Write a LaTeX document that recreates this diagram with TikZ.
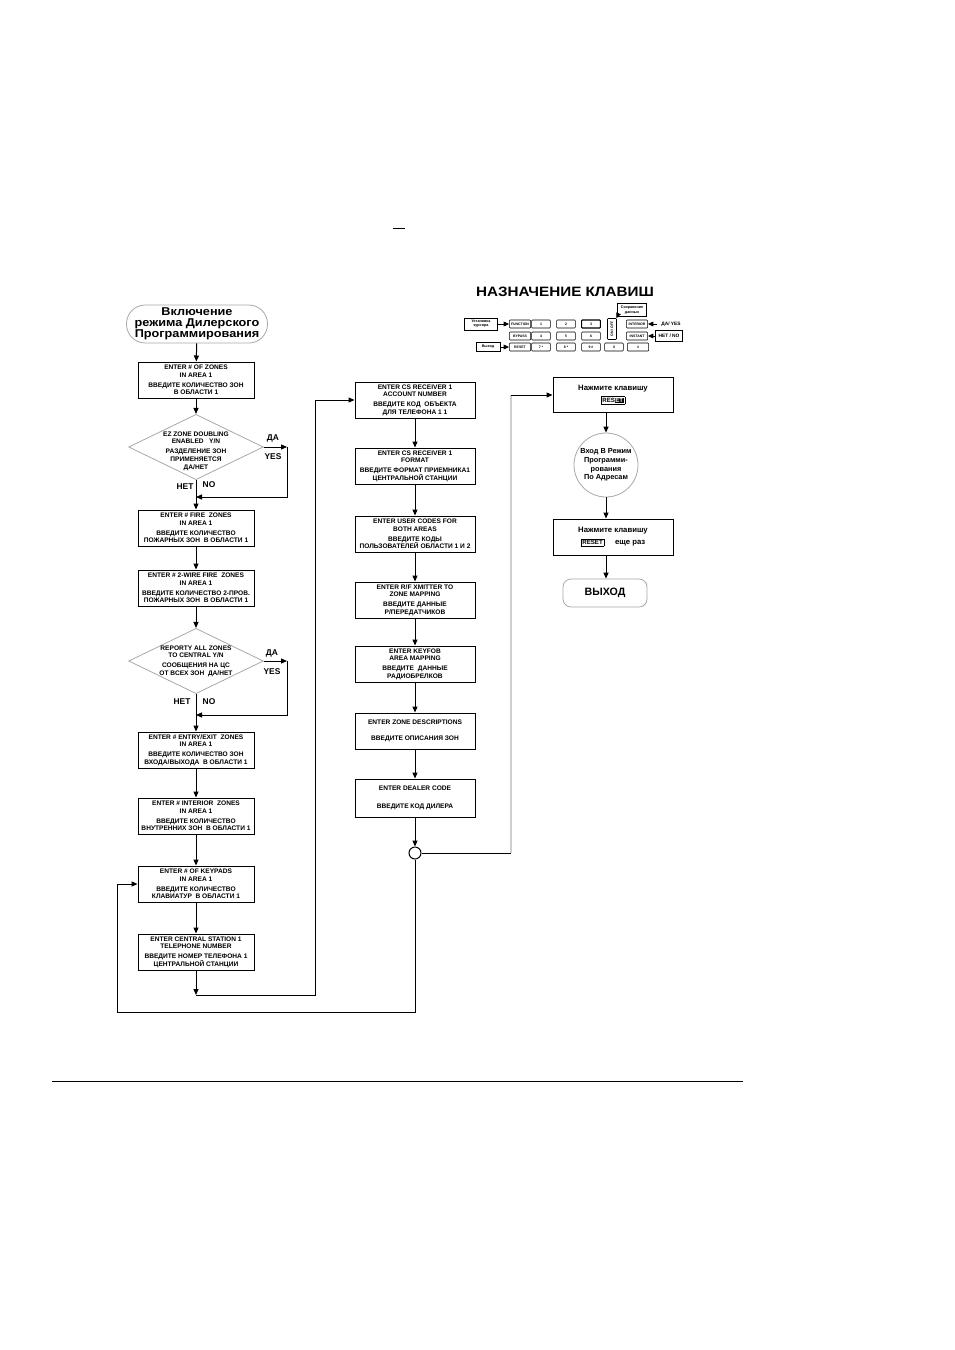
\documentclass[tikz,border=0pt]{standalone}
\usepackage{fontspec}
\setmainfont{Liberation Sans}
\newfontfamily\widesf[FakeStretch=1.12]{Liberation Sans}
\usetikzlibrary{arrows.meta,shapes.geometric,calc}
\definecolor{softgray}{HTML}{A8A8A8}
\definecolor{palegray}{HTML}{CFCFCF}
\newcommand{\resetcap}[1]{{\setlength{\fboxsep}{0.8pt}\setlength{\fboxrule}{0.4pt}\fbox{\fontsize{4.6}{4.6}\selectfont #1}}}

\begin{document}
\begin{tikzpicture}[x=0.75pt,y=-0.75pt,>={Triangle[length=4.5pt,width=3.8pt]},
  box/.style={draw,line width=0.75pt,minimum width=87pt,minimum height=27pt,inner sep=1pt,align=center,font=\fontsize{4.95}{5.7}\selectfont\bfseries},
  wbox/.style={box,minimum width=90pt},
  ask/.style={draw=softgray,diamond,minimum width=101pt,minimum height=49pt,inner sep=0pt,line width=0.6pt},
  asktext/.style={align=center,font=\fontsize{4.95}{5.8}\selectfont\bfseries},
  reply/.style={font=\fontsize{6.3}{6.3}\selectfont\bfseries},
  key/.style={draw,line width=0.4pt,rounded corners=0.6pt,minimum width=14pt,minimum height=6pt,inner sep=0pt,font=\fontsize{2.6}{2.6}\selectfont\bfseries},
  tag/.style={draw,line width=0.5pt,inner sep=0.6pt,align=center,font=\fontsize{2.8}{3.1}\selectfont\bfseries},
  flow/.style={->,line width=0.75pt},
  wire/.style={line width=0.75pt},
  pointer/.style={-{Triangle[length=4pt,width=3.5pt]},line width=0.6pt}]

  \useasboundingbox (0,0) rectangle (954,1350);
  \draw[line width=0.6pt] (393,228) -- (405,228);
  \draw[line width=0.6pt] (52,1081) -- (743,1081);

  \node[draw=softgray,line width=0.6pt,rounded corners=14pt,minimum width=105.75pt,minimum height=28.5pt,inner sep=0pt,align=center,font=\widesf\fontsize{8.5}{8.3}\selectfont\bfseries] (start) at (197,324) {Включение\\режима Дилерского\\Программирования};

  \node[box] (b1) at (196,380) {ENTER \# OF ZONES\\IN AREA 1\\[1.5pt]ВВЕДИТЕ КОЛИЧЕСТВО ЗОН\\В ОБЛАСТИ 1};
  \node[ask] (d1) at (196,447) {};
  \node[asktext] (t1) at (196,451) {EZ ZONE DOUBLING\\ENABLED\ \ \ Y/N\\[1.5pt]РАЗДЕЛЕНИЕ ЗОН\\ПРИМЕНЯЕТСЯ\\ДА/НЕТ};
  \node[box] (b2) at (196,528) {ENTER \# FIRE\ \ ZONES\\IN AREA 1\\[1.5pt]ВВЕДИТЕ КОЛИЧЕСТВО\\ПОЖАРНЫХ ЗОН\ \ В ОБЛАСТИ 1};
  \node[box] (b3) at (196,588) {ENTER \# 2-WIRE FIRE\ \ ZONES\\IN AREA 1\\[1.5pt]ВВЕДИТЕ КОЛИЧЕСТВО 2-ПРОВ.\\ПОЖАРНЫХ ЗОН\ \ В ОБЛАСТИ 1};
  \node[ask] (d2) at (196,661) {};
  \node[asktext] (t2) at (196,661) {REPORTY ALL ZONES\\TO CENTRAL Y/N\\[1.5pt]СООБЩЕНИЯ НА ЦС\\ОТ ВСЕХ ЗОН\ \ ДА/НЕТ};
  \node[box] (b4) at (196,750) {ENTER \# ENTRY/EXIT\ \ ZONES\\IN AREA 1\\[1.5pt]ВВЕДИТЕ КОЛИЧЕСТВО ЗОН\\ВХОДА/ВЫХОДА\ \ В ОБЛАСТИ 1};
  \node[box] (b5) at (196,816) {ENTER \# INTERIOR\ \ ZONES\\IN AREA 1\\[1.5pt]ВВЕДИТЕ КОЛИЧЕСТВО\\ВНУТРЕННИХ ЗОН\ \ В ОБЛАСТИ 1};
  \node[box] (b6) at (196,884) {ENTER \# OF KEYPADS\\IN AREA 1\\[1.5pt]ВВЕДИТЕ КОЛИЧЕСТВО\\КЛАВИАТУР\ \ В ОБЛАСТИ 1};
  \node[box] (b7) at (196,952) {ENTER CENTRAL STATION 1\\TELEPHONE NUMBER\\[1.5pt]ВВЕДИТЕ НОМЕР ТЕЛЕФОНА 1\\ЦЕНТРАЛЬНОЙ СТАНЦИИ};

  \node[reply] (da1) at (273,438) {ДА};
  \node[reply] (yes1) at (273,457) {YES};
  \node[reply] (net1) at (185,487) {НЕТ};
  \node[reply] (no1) at (209,485) {NO};
  \node[reply] (da2) at (272,653) {ДА};
  \node[reply] (yes2) at (272,672) {YES};
  \node[reply] (net2) at (182,702) {НЕТ};
  \node[reply] (no2) at (209,702) {NO};

  \node[wbox] (b8) at (415,400) {ENTER CS RECEIVER 1\\ACCOUNT NUMBER\\[1.5pt]ВВЕДИТЕ КОД\ \ ОБЪЕКТА\\ДЛЯ ТЕЛЕФОНА 1 1};
  \node[wbox] (b9) at (415,466) {ENTER CS RECEIVER 1\\FORMAT\\[1.5pt]ВВЕДИТЕ ФОРМАТ ПРИЕМНИКА1\\ЦЕНТРАЛЬНОЙ СТАНЦИИ};
  \node[wbox] (b10) at (415,534) {ENTER USER CODES FOR\\BOTH AREAS\\[1.5pt]ВВЕДИТЕ КОДЫ\\ПОЛЬЗОВАТЕЛЕЙ ОБЛАСТИ 1 И 2};
  \node[wbox] (b11) at (415,600) {ENTER R/F XMITTER TO\\ZONE MAPPING\\[1.5pt]ВВЕДИТЕ ДАННЫЕ\\Р/ПЕРЕДАТЧИКОВ};
  \node[wbox] (b12) at (415,664) {ENTER KEYFOB\\AREA MAPPING\\[1.5pt]ВВЕДИТЕ\ \ ДАННЫЕ\\РАДИОБРЕЛКОВ};
  \node[wbox] (b13) at (415,731) {ENTER ZONE DESCRIPTIONS\\[6.5pt]ВВЕДИТЕ ОПИСАНИЯ ЗОН};
  \node[wbox,minimum height=28.5pt] (b14) at (415,798) {ENTER DEALER CODE\\[7.5pt]ВВЕДИТЕ КОД ДИЛЕРА};
  \node[draw,circle,line width=0.75pt,minimum size=9pt,inner sep=0pt] (c1) at (415,853) {};

  \node[wbox,minimum height=26pt,font=\fontsize{5.8}{7}\selectfont\bfseries] (b15) at (613,395) {Нажмите клавишу\\[2pt]\resetcap{RES{\setlength{\fboxsep}{0.3pt}\colorbox{black}{\color{white}ET}}}};
  \node[draw=softgray,circle,line width=0.6pt,minimum size=48pt,inner sep=0pt,align=center,font=\fontsize{5.5}{6.6}\selectfont\bfseries] (c2) at (606,465) {Вход В Режим\\Программи-\\рования\\По Адресам};
  \node[wbox,font=\fontsize{5.8}{7}\selectfont\bfseries] (b16) at (613,537) {Нажмите клавишу\\[2pt]\resetcap{RESET}\hspace{8pt}еще раз};
  \node[draw=softgray,rounded corners=6pt,line width=0.6pt,minimum width=63pt,minimum height=21pt,font=\fontsize{8}{8}\selectfont\bfseries] (exit) at (605,593) {ВЫХОД};

  \draw[flow] (start) -- (b1);
  \draw[flow] (b1) -- (d1);
  \coordinate (y1) at (287,447);
  \coordinate (n1) at (196,497);
  \draw[flow] (d1.east) -- (y1);
  \draw[flow] (y1) |- (n1);
  \draw[flow] (d1.south) -- (b2.north);
  \draw[flow] (b2) -- (b3);
  \draw[flow] (b3) -- (d2);
  \coordinate (y2) at (287,661);
  \coordinate (n2) at (196,715);
  \draw[flow] (d2.east) -- (y2);
  \draw[flow] (y2) |- (n2);
  \draw[flow] (d2.south) -- (b4.north);
  \draw[flow] (b4) -- (b5);
  \draw[flow] (b5) -- (b6);
  \draw[flow] (b6) -- (b7);
  \coordinate (j1) at (196,995);
  \coordinate (k1) at (315,995);
  \draw[flow] (b7.south) -- (j1);
  \draw[flow] (j1) -- (k1) |- (b8.west);

  \draw[flow] (b8) -- (b9);
  \draw[flow] (b9) -- (b10);
  \draw[flow] (b10) -- (b11);
  \draw[flow] (b11) -- (b12);
  \draw[flow] (b12) -- (b13);
  \draw[flow] (b13) -- (b14);
  \draw[flow] (b14.south) -- (c1.north);
  \coordinate (k2) at (511,853);
  \draw[wire] (c1.east) -- (k2);
  \draw[palegray,line width=2pt] (k2) -- (k2 |- b15.west);
  \draw[flow] (k2 |- b15.west) -- (b15.west);
  \coordinate (k3) at (117,1012);
  \draw[flow] (c1.south) |- (k3) |- (b6.west);

  \draw[flow] (b15.south -| c2) -- (c2.north);
  \draw[flow] (c2.south) -- (b16.north -| c2);
  \draw[flow] (b16.south -| c2) -- (exit.north -| c2);

  \node[font=\widesf\fontsize{10.2}{10.2}\selectfont\bfseries] (title) at (565,292) {НАЗНАЧЕНИЕ КЛАВИШ};
  \foreach \n/\x/\y/\t/\w in {fn/520/324/FUNCTION/16,one/541/324/1/14,two/566/324/2/14,
      byp/520/336/BYPASS/16,four/541/336/4/14,five/566/336/5/14,six/591/336/6/14,
      rst/520/347/RESET/16,sev/541/347/{7 *}/14,eig/566/347/{8 *}/14,nin/591/347/{9 \#}/14,zer/614/347/0/14,hsh/638/347/\#/16,
      int/637/324/INTERIOR/16,ins/637/336/INSTANT/16}
    \node[key,minimum width=\w pt] (\n) at (\x,\y) {\t};
  \node[key,line width=0.8pt] (thr) at (591,324) {3};
  \node[key,minimum width=15.75pt,minimum height=6.75pt,rotate=90] (onoff) at (612,329) {ON / OFF};
  \node[tag,minimum width=25pt,minimum height=9pt] (cur) at (481,324) {Установка\\курсора};
  \node[tag,minimum width=22pt,minimum height=10pt] (save) at (632,310) {Сохранение\\данных};
  \node[font=\fontsize{3.6}{3.6}\selectfont\bfseries] (yes) at (671,324) {ДА/ YES};
  \node[tag,minimum width=20pt,minimum height=8pt,font=\fontsize{3.6}{3.6}\selectfont\bfseries] (no) at (669,336) {НЕТ / NO};
  \node[tag,minimum width=18pt,minimum height=7pt] (out) at (488,347) {Выход};
  \draw[pointer] (cur) -- (fn);
  \draw[pointer] (save.south west) -- (onoff);
  \draw[pointer] (yes) -- (int);
  \draw[pointer] (no) -- (ins);
  \draw[pointer] (out) -- (rst);
\end{tikzpicture}
\end{document}
